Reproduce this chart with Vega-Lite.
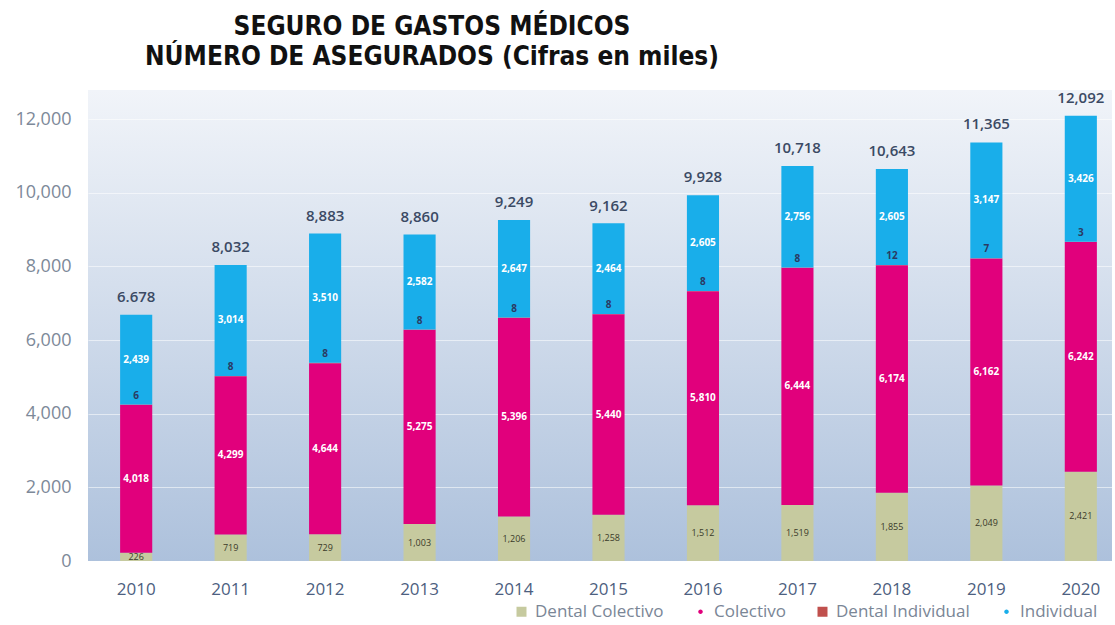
{
  "$schema": "https://vega.github.io/schema/vega-lite/v6.json",
  "autosize": {"type": "none"},
  "padding": {"left": 88, "top": 90, "right": 3, "bottom": 64},
  "width": 1024,
  "height": 471,
  "background": "#ffffff",
  "title": {
    "text": ["SEGURO DE GASTOS MÉDICOS", "NÚMERO DE ASEGURADOS (Cifras en miles)"],
    "anchor": "middle",
    "dx": -168,
    "offset": 20,
    "font": "Liberation Sans Narrow, DejaVu Sans Condensed, sans-serif",
    "fontSize": 26,
    "fontWeight": "bold",
    "color": "#111111",
    "lineHeight": 30
  },
  "config": {
    "view": {
      "stroke": null,
      "fill": {"gradient": "linear", "x1": 0, "y1": 0, "x2": 0, "y2": 1,
        "stops": [{"offset": 0, "color": "#f1f4f9"}, {"offset": 1, "color": "#adc1dc"}]}
    },
    "font": "Open Sans"
  },
  "datasets": {
    "series": [
      {"year": "2010", "serie": "Dental Colectivo", "value": 226},
      {"year": "2010", "serie": "Colectivo", "value": 4018},
      {"year": "2010", "serie": "Dental Individual", "value": 6},
      {"year": "2010", "serie": "Individual", "value": 2439},
      {"year": "2011", "serie": "Dental Colectivo", "value": 719},
      {"year": "2011", "serie": "Colectivo", "value": 4299},
      {"year": "2011", "serie": "Dental Individual", "value": 8},
      {"year": "2011", "serie": "Individual", "value": 3014},
      {"year": "2012", "serie": "Dental Colectivo", "value": 729},
      {"year": "2012", "serie": "Colectivo", "value": 4644},
      {"year": "2012", "serie": "Dental Individual", "value": 8},
      {"year": "2012", "serie": "Individual", "value": 3510},
      {"year": "2013", "serie": "Dental Colectivo", "value": 1003},
      {"year": "2013", "serie": "Colectivo", "value": 5275},
      {"year": "2013", "serie": "Dental Individual", "value": 8},
      {"year": "2013", "serie": "Individual", "value": 2582},
      {"year": "2014", "serie": "Dental Colectivo", "value": 1206},
      {"year": "2014", "serie": "Colectivo", "value": 5396},
      {"year": "2014", "serie": "Dental Individual", "value": 8},
      {"year": "2014", "serie": "Individual", "value": 2647},
      {"year": "2015", "serie": "Dental Colectivo", "value": 1258},
      {"year": "2015", "serie": "Colectivo", "value": 5440},
      {"year": "2015", "serie": "Dental Individual", "value": 8},
      {"year": "2015", "serie": "Individual", "value": 2464},
      {"year": "2016", "serie": "Dental Colectivo", "value": 1512},
      {"year": "2016", "serie": "Colectivo", "value": 5810},
      {"year": "2016", "serie": "Dental Individual", "value": 8},
      {"year": "2016", "serie": "Individual", "value": 2605},
      {"year": "2017", "serie": "Dental Colectivo", "value": 1519},
      {"year": "2017", "serie": "Colectivo", "value": 6444},
      {"year": "2017", "serie": "Dental Individual", "value": 8},
      {"year": "2017", "serie": "Individual", "value": 2756},
      {"year": "2018", "serie": "Dental Colectivo", "value": 1855},
      {"year": "2018", "serie": "Colectivo", "value": 6174},
      {"year": "2018", "serie": "Dental Individual", "value": 12},
      {"year": "2018", "serie": "Individual", "value": 2605},
      {"year": "2019", "serie": "Dental Colectivo", "value": 2049},
      {"year": "2019", "serie": "Colectivo", "value": 6162},
      {"year": "2019", "serie": "Dental Individual", "value": 7},
      {"year": "2019", "serie": "Individual", "value": 3147},
      {"year": "2020", "serie": "Dental Colectivo", "value": 2421},
      {"year": "2020", "serie": "Colectivo", "value": 6242},
      {"year": "2020", "serie": "Dental Individual", "value": 3},
      {"year": "2020", "serie": "Individual", "value": 3426}
    ],
    "totales": [
      {"year": "2010", "total": 6678, "label": "6.678"},
      {"year": "2011", "total": 8032, "label": "8,032"},
      {"year": "2012", "total": 8883, "label": "8,883"},
      {"year": "2013", "total": 8860, "label": "8,860"},
      {"year": "2014", "total": 9249, "label": "9,249"},
      {"year": "2015", "total": 9162, "label": "9,162"},
      {"year": "2016", "total": 9928, "label": "9,928"},
      {"year": "2017", "total": 10718, "label": "10,718"},
      {"year": "2018", "total": 10643, "label": "10,643"},
      {"year": "2019", "total": 11365, "label": "11,365"},
      {"year": "2020", "total": 12092, "label": "12,092"}
    ]
  },
  "encoding": {
    "x": {
      "field": "year", "type": "nominal", "title": null,
      "scale": {"paddingInner": 0.66, "paddingOuter": 0.25, "align": 0.68},
      "axis": {"labelAngle": 0, "domain": false, "ticks": false, "labelPadding": 20,
        "labelFont": "Open Sans", "labelFontSize": 17, "labelColor": "#4d6080", "grid": false}
    }
  },
  "layer": [
    {
      "data": {"name": "series"},
      "transform": [
        {"calculate": "indexof(['Dental Colectivo','Colectivo','Dental Individual','Individual'], datum.serie)", "as": "idx"},
        {"stack": "value", "groupby": ["year"], "sort": [{"field": "idx", "order": "ascending"}], "as": ["y0", "y1"]},
        {"calculate": "(datum.y0 + datum.y1) / 2", "as": "mid"}
      ],
      "layer": [
        {
          "mark": {"type": "bar"},
          "encoding": {
            "y": {
              "field": "y0", "type": "quantitative", "title": null,
              "scale": {"domain": [0, 12790], "nice": false, "zero": true},
              "axis": {"values": [0, 2000, 4000, 6000, 8000, 10000, 12000], "format": ",d",
                "domain": false, "ticks": false, "labelPadding": 17,
                "labelFont": "Open Sans", "labelFontSize": 18, "labelColor": "#7d8999",
                "grid": true, "gridColor": "#ffffff", "gridOpacity": 0.55, "gridWidth": 1}
            },
            "y2": {"field": "y1"},
            "color": {
              "field": "serie", "type": "nominal", "title": null,
              "scale": {
                "domain": ["Dental Colectivo", "Colectivo", "Dental Individual", "Individual"],
                "range": ["#c6ca9f", "#e1007c", "#c0504d", "#19aeea"]
              },
              "legend": {
                "orient": "none", "legendX": 425, "legendY": 513,
                "direction": "horizontal", "columns": 4,
                "labelFont": "Open Sans", "labelFontSize": 17, "labelColor": "#7a8696",
                "labelOffset": 5, "columnPadding": 28, "symbolSize": 100, "symbolType": "square",
                "encode": {
                  "symbols": {"update": {
                    "shape": {"signal": "datum.value == 'Colectivo' || datum.value == 'Individual' ? 'M-0.45,0A0.45,0.45,0,1,1,0.45,0A0.45,0.45,0,1,1,-0.45,0Z' : 'square'"}
                  }}
                }
              }
            }
          }
        },
        {
          "transform": [{"filter": "datum.serie === 'Colectivo' || datum.serie === 'Individual'"}],
          "mark": {"type": "text", "font": "Open Sans", "fontSize": 10, "fontWeight": "bold", "color": "#ffffff", "baseline": "middle"},
          "encoding": {
            "y": {"field": "mid", "type": "quantitative"},
            "text": {"field": "value", "type": "quantitative", "format": ",d"}
          }
        },
        {
          "transform": [{"filter": "datum.serie === 'Dental Colectivo'"}],
          "mark": {"type": "text", "font": "Open Sans", "fontSize": 9, "color": "#3a3a2a", "baseline": "middle"},
          "encoding": {
            "y": {"field": "mid", "type": "quantitative"},
            "text": {"field": "value", "type": "quantitative", "format": ",d"}
          }
        },
        {
          "transform": [{"filter": "datum.serie === 'Dental Individual'"}],
          "mark": {"type": "text", "font": "Open Sans", "fontSize": 10, "fontWeight": "bold", "color": "#2b3a63", "baseline": "middle", "dy": -9},
          "encoding": {
            "y": {"field": "mid", "type": "quantitative"},
            "text": {"field": "value", "type": "quantitative", "format": ",d"}
          }
        }
      ]
    },
    {
      "data": {"name": "totales"},
      "mark": {"type": "text", "font": "Open Sans", "fontSize": 15, "fontWeight": 600, "color": "#3b4a64", "baseline": "bottom", "dy": -10},
      "encoding": {
        "y": {"field": "total", "type": "quantitative"},
        "text": {"field": "label", "type": "nominal"}
      }
    }
  ]
}
